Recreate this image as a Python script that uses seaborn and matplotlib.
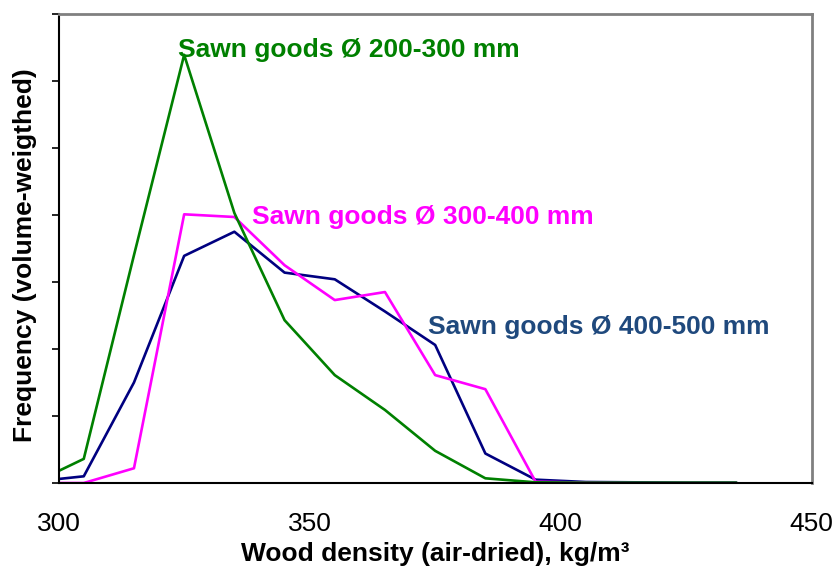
import pandas as pd
import matplotlib
matplotlib.use("Agg")
import matplotlib.pyplot as plt
import seaborn as sns

# --------------------------------------------------
# DATA
# --------------------------------------------------

density = [300, 305, 315, 325, 335, 345, 355, 365, 375, 385, 395, 405, 415, 425, 435]

freq_400_500 = [0.06, 0.10, 1.50, 3.39, 3.75, 3.14, 3.04, 2.56, 2.06, 0.44, 0.05, 0.015, 0.01, 0.005, 0.005]
freq_300_400 = [0.00, 0.00, 0.22, 4.01, 3.97, 3.25, 2.73, 2.85, 1.61, 1.40, 0.02, 0.005, 0.0, 0.0, 0.0]
freq_200_300 = [0.18, 0.36, 3.40, 6.39, 4.03, 2.43, 1.61, 1.09, 0.48, 0.07, 0.01, 0.005, 0.005, 0.005, 0.005]

series_names = ["Sawn goods Ø 400-500 mm", "Sawn goods Ø 300-400 mm", "Sawn goods Ø 200-300 mm"]
line_colors = ["#000080", "#FF00FF", "#008000"]
label_colors = ["#1F497D", "#FF00FF", "#008000"]
label_pos = [(373.6, 2.33), (338.5, 3.97), (323.8, 6.46)]

x_ticks = [300, 350, 400, 450]

# --------------------------------------------------
# BUILD LONG TABLE
# --------------------------------------------------

frames = []
for name, values in zip(series_names, [freq_400_500, freq_300_400, freq_200_300]):
    frames.append(pd.DataFrame({"density": density, "freq": values, "series": name}))
df = pd.concat(frames, ignore_index=True)

# --------------------------------------------------
# PLOT
# --------------------------------------------------

sns.set_style("white")
plt.rcParams["font.family"] = ["Liberation Sans", "DejaVu Sans"]
plt.rcParams["text.color"] = "black"
plt.rcParams["axes.labelcolor"] = "black"
plt.rcParams["xtick.color"] = "black"
plt.rcParams["ytick.color"] = "black"

fig = plt.figure(figsize=(8.38, 5.75), dpi=100)
ax = fig.add_axes([0.070, 0.160, 0.8986, 0.8157])

sns.lineplot(
    data=df,
    x="density",
    y="freq",
    hue="series",
    hue_order=series_names,
    palette=dict(zip(series_names, line_colors)),
    linewidth=1.9,
    legend=False,
    ax=ax,
)

for name, color, (lx, ly) in zip(series_names, label_colors, label_pos):
    ax.text(lx, ly, name, color=color, fontsize=19, fontweight="bold", va="center", ha="left")

ax.set_xlim(300, 450)
ax.set_ylim(0, 7)
ax.set_xticks(x_ticks)
ax.set_yticks(range(0, 8))
ax.set_yticklabels([])
ax.tick_params(axis="x", direction="out", length=6, width=1.2, color="#808080",
               labelcolor="black", labelsize=19, pad=15)
ax.tick_params(axis="y", direction="out", length=5, width=1.2, color="black", left=True)

ax.spines["left"].set_color("black")
ax.spines["bottom"].set_color("black")
ax.spines["top"].set_color("#808080")
ax.spines["right"].set_color("#808080")
for side in ["left", "bottom"]:
    ax.spines[side].set_linewidth(1.5)
for side in ["top", "right"]:
    ax.spines[side].set_linewidth(2.0)

ax.set_xlabel("Wood density (air-dried), kg/m³", fontsize=19, fontweight="bold", labelpad=4)
ax.set_ylabel("Frequency (volume-weigthed)", fontsize=19, fontweight="bold")
ax.yaxis.set_label_coords(-0.029, 0.486)

plt.savefig("out.png", dpi=100)
plt.close()
